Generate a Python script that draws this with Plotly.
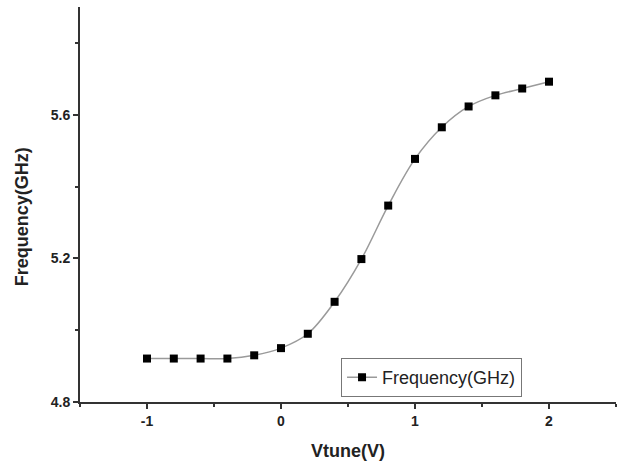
import plotly.graph_objects as go

vtune = [-1.0, -0.8, -0.6, -0.4, -0.2, 0.0, 0.2, 0.4, 0.6, 0.8, 1.0, 1.2, 1.4, 1.6, 1.8, 2.0]
freq = [4.921, 4.921, 4.921, 4.921, 4.930, 4.950, 4.990, 5.079, 5.198, 5.347, 5.477, 5.565, 5.623, 5.654, 5.673, 5.692]
x_ticks = [-1, 0, 1, 2]
y_ticks = [4.8, 5.2, 5.6]

FONT = "Liberation Sans, Arial"
fig = go.Figure()
fig.add_trace(go.Scatter(
    x=vtune, y=freq, mode="lines+markers", name="Frequency(GHz)",
    line=dict(color="#9a9a9a", width=1.5, shape="spline"),
    marker=dict(symbol="square", size=8, color="black"),
))

fig.update_layout(
    width=626, height=465,
    margin=dict(l=80, r=10, t=7, b=63),
    paper_bgcolor="white", plot_bgcolor="white",
    showlegend=True,
    legend=dict(x=0.487, y=0.111, xanchor="left", yanchor="top",
                bordercolor="#777", borderwidth=1, bgcolor="white", itemwidth=30,
                font=dict(family=FONT, size=18, color="#222")),
    xaxis=dict(range=[-1.5, 2.5], tickvals=x_ticks,
               ticktext=["<b>-1</b>", "<b>0</b>", "<b>1</b>", "<b>2</b>"],
               showgrid=False, zeroline=False, showline=True, linecolor="#333", linewidth=2,
               ticks="outside", ticklen=5, tickwidth=1.5, tickcolor="#333",
               minor=dict(dtick=0.5, ticks="outside", ticklen=3, tickcolor="#333", showgrid=False),
               tickfont=dict(family=FONT, size=14, color="#222")),
    yaxis=dict(range=[4.8, 5.9], tickvals=y_ticks,
               ticktext=["<b>4.8</b>", "<b>5.2</b>", "<b>5.6</b>"],
               showgrid=False, zeroline=False, showline=True, linecolor="#333", linewidth=2,
               ticks="outside", ticklen=5, tickwidth=1.5, tickcolor="#333",
               minor=dict(tickvals=[5.0, 5.4, 5.8], ticks="outside", ticklen=3, tickcolor="#333", showgrid=False),
               tickfont=dict(family=FONT, size=14, color="#222")),
    annotations=[
        dict(text="<b>Vtune(V)</b>", xref="paper", yref="paper", x=0.5, y=-0.125,
             xanchor="center", yanchor="middle", showarrow=False,
             font=dict(family=FONT, size=18, color="#222")),
        dict(text="<b>Frequency(GHz)</b>", xref="paper", yref="paper", x=-0.108, y=0.468,
             xanchor="center", yanchor="middle", showarrow=False, textangle=-90,
             font=dict(family=FONT, size=18, color="#222")),
    ],
)
fig.write_html("out.html")
